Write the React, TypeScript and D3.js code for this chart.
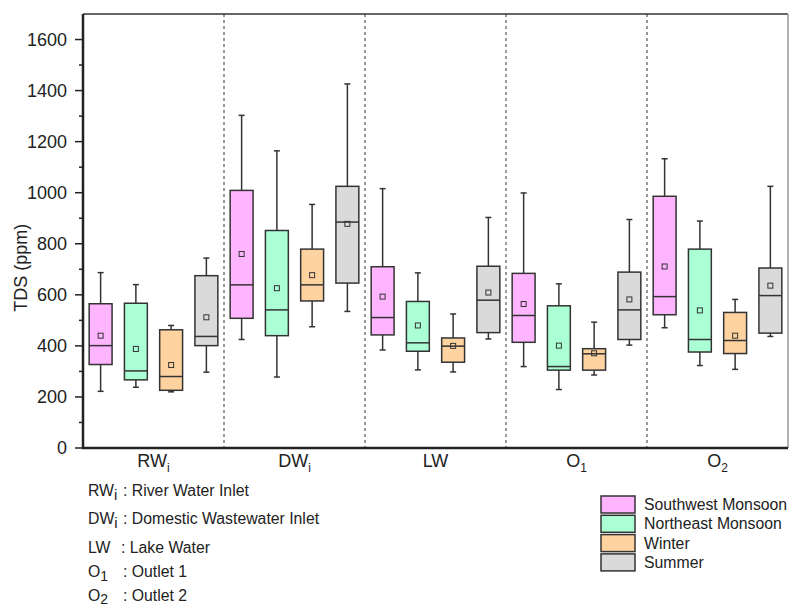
import * as d3 from 'd3'

// site groups along the x axis
const groups = ['RWi', 'DWi', 'LW', 'O1', 'O2']
const groupLabels: [string, string][] = [
  ['RW', 'i'],
  ['DW', 'i'],
  ['LW', ''],
  ['O', '1'],
  ['O', '2'],
]

const seasons = ['Southwest Monsoon', 'Northeast Monsoon', 'Winter', 'Summer']
const seasonColors = ['#ffb4ff', '#aaffd5', '#ffd3a0', '#dadada']

// [min, q1, median, q3, max, mean] per group
const southwestMonsoon = [
  [222, 327, 401, 565, 687, 440],
  [425, 508, 639, 1009, 1303, 760],
  [384, 443, 511, 710, 1016, 593],
  [319, 414, 519, 684, 999, 564],
  [471, 522, 593, 986, 1133, 711],
]
const northeastMonsoon = [
  [238, 267, 302, 567, 640, 388],
  [278, 440, 541, 852, 1164, 626],
  [306, 379, 412, 574, 686, 480],
  [229, 305, 319, 557, 643, 401],
  [323, 376, 425, 779, 889, 539],
]
const winter = [
  [220, 226, 280, 463, 480, 325],
  [475, 576, 639, 779, 954, 677],
  [298, 336, 399, 431, 525, 400],
  [286, 305, 369, 389, 493, 371],
  [308, 370, 421, 531, 582, 440],
]
const summer = [
  [297, 401, 437, 675, 744, 512],
  [535, 646, 885, 1025, 1426, 878],
  [427, 452, 579, 712, 903, 609],
  [403, 425, 541, 689, 895, 582],
  [437, 450, 597, 705, 1025, 636],
]
const seasonStats = [southwestMonsoon, northeastMonsoon, winter, summer]

const yTicks = [0, 200, 400, 600, 800, 1000, 1200, 1400, 1600]
const yMinorTicks = d3.range(100, 1700, 200)

const abbreviations: [string, string, string][] = [
  ['RW', 'i', ': River Water Inlet'],
  ['DW', 'i', ': Domestic Wastewater Inlet'],
  ['LW', '', ': Lake Water'],
  ['O', '1', ': Outlet 1'],
  ['O', '2', ': Outlet 2'],
]

const font = '"Liberation Sans", Arial, sans-serif'
const ink = '#222'

export default function App() {
  const width = 789
  const height = 608
  const left = 83
  const right = 788
  const top = 14
  const bottom = 448

  const y = d3.scaleLinear().domain([0, 1700]).range([bottom, top])
  const x = d3.scaleBand<string>().domain(groups).range([left, right])
  const xs = d3
    .scaleBand<string>()
    .domain(seasons)
    .range([0, x.bandwidth()])
    .paddingInner(0.35)
    .paddingOuter(0.175)

  const bw = xs.bandwidth()
  const abbrY = [496, 524, 553, 577, 601]

  return (
    <svg
      width={width}
      height={height}
      style={{ position: 'absolute', left: 0, top: 0, background: '#fff' }}
      fontFamily={font}
    >
      {/* group separators */}
      {groups.slice(1).map((g) => (
        <line
          key={g}
          x1={x(g)}
          x2={x(g)}
          y1={top}
          y2={bottom}
          stroke="#333"
          strokeWidth={1}
          strokeDasharray="3,3"
        />
      ))}

      {/* frame */}
      <line x1={left} x2={right} y1={top} y2={top} stroke="#333" strokeWidth={1.5} />
      <line x1={right} x2={right} y1={top} y2={bottom} stroke="#999" strokeWidth={1.5} />

      {/* boxes */}
      {seasonStats.map((stats, si) =>
        stats.map((s, gi) => {
          const [mn, q1, med, q3, mx, mean] = s
          const x0 = (x(groups[gi]) ?? 0) + (xs(seasons[si]) ?? 0)
          const cx = x0 + bw / 2
          return (
            <g key={`${si}-${gi}`} stroke="#333" fill="none">
              <line x1={cx} x2={cx} y1={y(mx)} y2={y(q3)} strokeWidth={1.5} />
              <line x1={cx} x2={cx} y1={y(q1)} y2={y(mn)} strokeWidth={1.5} />
              <line x1={cx - 3} x2={cx + 3} y1={y(mx)} y2={y(mx)} strokeWidth={1.5} />
              <line x1={cx - 3} x2={cx + 3} y1={y(mn)} y2={y(mn)} strokeWidth={1.5} />
              <rect
                x={x0}
                y={y(q3)}
                width={bw}
                height={y(q1) - y(q3)}
                fill={seasonColors[si]}
                strokeWidth={1.5}
              />
              <line x1={x0} x2={x0 + bw} y1={y(med)} y2={y(med)} strokeWidth={1.5} />
              <rect x={cx - 2.5} y={y(mean) - 2.5} width={5} height={5} strokeWidth={1} />
            </g>
          )
        })
      )}

      {/* y axis */}
      <line x1={left} x2={left} y1={top} y2={bottom + 1} stroke={ink} strokeWidth={2.5} />
      {yTicks.map((t) => (
        <g key={t}>
          <line x1={left - 8} x2={left} y1={y(t)} y2={y(t)} stroke={ink} strokeWidth={1.5} />
          <text
            x={67}
            y={y(t)}
            dy="0.36em"
            textAnchor="end"
            fontSize={18}
            fill={ink}
          >
            {t}
          </text>
        </g>
      ))}
      {yMinorTicks.map((t) => (
        <line key={t} x1={left - 4} x2={left} y1={y(t)} y2={y(t)} stroke={ink} strokeWidth={1.5} />
      ))}
      <text
        transform={`translate(27,${(y(700) + y(900)) / 2 + 24}) rotate(-90)`}
        textAnchor="middle"
        fontSize={18}
        fill={ink}
      >
        TDS (ppm)
      </text>

      {/* x axis */}
      <line x1={left - 1} x2={right} y1={bottom} y2={bottom} stroke={ink} strokeWidth={2.5} />
      {groupLabels.map(([main, sub], i) => (
        <text
          key={groups[i]}
          x={(x(groups[i]) ?? 0) + x.bandwidth() / 2}
          y={467}
          textAnchor="middle"
          fontSize={18}
          fill={ink}
        >
          {main}
          {sub && (
            <tspan fontSize={12} dy={5}>
              {sub}
            </tspan>
          )}
        </text>
      ))}

      {/* abbreviations */}
      {abbreviations.map(([main, sub, desc], i) => (
        <g key={main + sub} fontSize={15.8} fill={ink}>
          <text x={88} y={abbrY[i]}>
            {main}
            {sub && (
              <tspan fontSize={sub === 'i' ? 15 : 14} dy={i === 4 ? 2.5 : 4}>
                {sub}
              </tspan>
            )}
          </text>
          <text x={i === 2 ? 121 : 123} y={abbrY[i]}>
            {desc}
          </text>
        </g>
      ))}

      {/* legend */}
      {seasons.map((s, i) => (
        <g key={s}>
          <rect
            x={601}
            y={496 + i * 19.3}
            width={34}
            height={17}
            fill={seasonColors[i]}
            stroke="#333"
            strokeWidth={1.5}
          />
          <text x={644} y={496 + i * 19.3 + 8.5} dy="0.36em" fontSize={15.8} fill={ink}>
            {s}
          </text>
        </g>
      ))}
    </svg>
  )
}
